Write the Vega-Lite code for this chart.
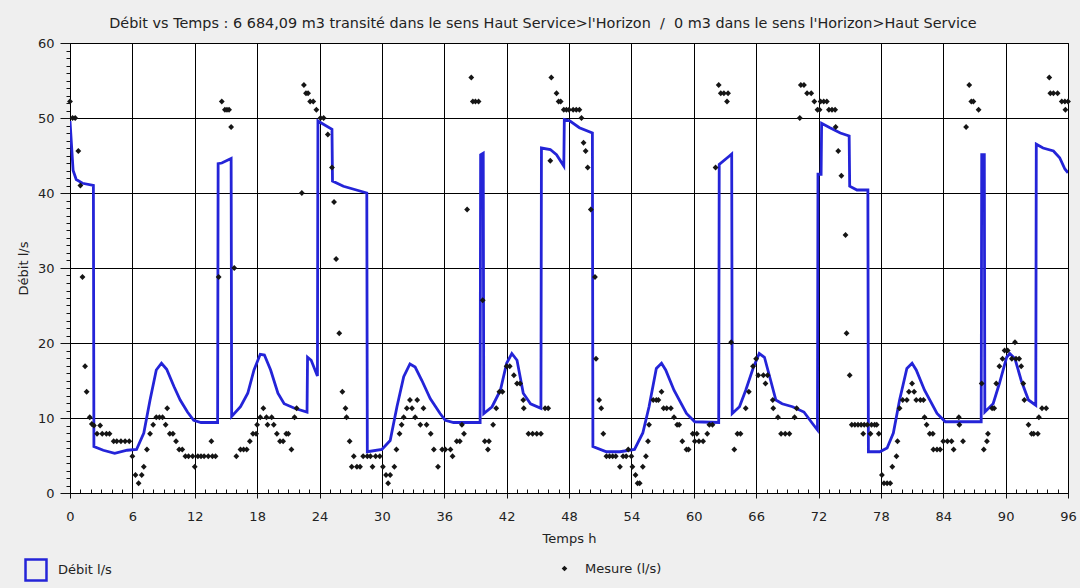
{
  "$schema": "https://vega.github.io/schema/vega-lite/v6.json",
  "width": 998,
  "height": 450,
  "autosize": {"type": "none"},
  "padding": {"left": 70, "top": 43, "right": 12, "bottom": 95},
  "background": "#efefef",
  "view": {"fill": "white", "stroke": "#000", "strokeWidth": 1},
  "title": {
    "text": "Débit vs Temps : 6 684,09 m3 transité dans le sens Haut Service>l'Horizon\u00a0\u00a0/\u00a0\u00a00 m3 dans le sens l'Horizon>Haut Service",
    "font": "DejaVu Sans", "fontSize": 14.4, "fontWeight": "normal", "color": "#222",
    "anchor": "middle", "frame": "group", "dx": -26, "offset": 6
  },
  "datasets": {
    "debit": [
      {"t":0,"q":49.6},{"t":0.3,"q":43},{"t":0.6,"q":41.8},{"t":1.2,"q":41.3},{"t":2.25,"q":41.0},{"t":2.3,"q":6.2},{"t":3.2,"q":5.7},{"t":4.3,"q":5.3},{"t":5.5,"q":5.7},{"t":6.4,"q":5.8},{"t":7.1,"q":8},{"t":7.7,"q":12.4},{"t":8.3,"q":16.4},{"t":8.8,"q":17.3},{"t":9.3,"q":16.5},{"t":10,"q":14.2},{"t":10.6,"q":12.4},{"t":11.3,"q":10.8},{"t":11.9,"q":9.7},{"t":12.6,"q":9.4},{"t":14.2,"q":9.4},{"t":14.25,"q":43.9},{"t":14.6,"q":44},{"t":15.5,"q":44.6},{"t":15.55,"q":10.2},{"t":16.4,"q":11.5},{"t":17.1,"q":13.3},{"t":17.7,"q":16.4},{"t":18.3,"q":18.5},{"t":18.7,"q":18.4},{"t":19.3,"q":16.4},{"t":20.0,"q":13.3},{"t":20.6,"q":11.9},{"t":21.6,"q":11.3},{"t":22.8,"q":10.8},{"t":22.85,"q":18.1},{"t":23.2,"q":17.7},{"t":23.8,"q":15.6},{"t":23.85,"q":49.6},
      {"t":25.2,"q":48.5},{"t":25.25,"q":41.6},{"t":26.3,"q":40.9},{"t":28.55,"q":40},{"t":28.6,"q":5.5},{"t":30.0,"q":5.8},{"t":30.8,"q":7},{"t":31.45,"q":11.5},{"t":32.1,"q":15.5},{"t":32.7,"q":17.2},{"t":33.2,"q":16.8},{"t":33.85,"q":15},{"t":34.65,"q":12.6},{"t":35.6,"q":10.6},{"t":36.1,"q":9.7},{"t":36.9,"q":9.4},{"t":39.45,"q":9.4},{"t":39.5,"q":45.1},{"t":39.75,"q":45.3},{"t":39.8,"q":10.6},{"t":40.6,"q":11.5},{"t":41.4,"q":13.7},{"t":42.0,"q":17.3},{"t":42.5,"q":18.6},{"t":43.0,"q":17.7},{"t":43.6,"q":13.3},{"t":44.3,"q":11.9},{"t":45.3,"q":11.3},{"t":45.35,"q":46},{"t":46.2,"q":45.8},{"t":46.8,"q":45.1},{"t":47.5,"q":43.6},{"t":47.55,"q":49.8},
      {"t":48.1,"q":49.6},{"t":49.0,"q":48.7},{"t":50.25,"q":48},{"t":50.3,"q":6.2},{"t":51.6,"q":5.5},{"t":52.9,"q":5.5},{"t":54.3,"q":5.8},{"t":55.1,"q":8},{"t":55.7,"q":11.5},{"t":56.4,"q":16.6},{"t":56.9,"q":17.3},{"t":57.3,"q":16.4},{"t":58.1,"q":13.7},{"t":59.3,"q":10.6},{"t":60.1,"q":9.5},{"t":62.4,"q":9.4},{"t":62.45,"q":43.8},{"t":63.4,"q":44.9},{"t":63.65,"q":45.2},{"t":63.7,"q":10.6},{"t":64.4,"q":11.5},{"t":65.0,"q":13.7},{"t":65.7,"q":16.6},{"t":66.3,"q":18.6},{"t":66.8,"q":18.1},{"t":67.4,"q":15},{"t":67.9,"q":12.4},{"t":68.5,"q":11.9},{"t":69.5,"q":11.5},{"t":70.6,"q":10.8},{"t":71.4,"q":9.3},{"t":71.9,"q":8.4},{"t":71.95,"q":42.5},{"t":72.25,"q":42.5},{"t":72.3,"q":49.3},
      {"t":73.1,"q":48.7},{"t":74.1,"q":48},{"t":74.95,"q":47.6},{"t":75.0,"q":40.9},{"t":75.7,"q":40.4},{"t":76.75,"q":40.4},{"t":76.8,"q":5.5},{"t":77.9,"q":5.5},{"t":78.6,"q":6},{"t":79.2,"q":8},{"t":79.8,"q":12.4},{"t":80.5,"q":16.6},{"t":81.0,"q":17.3},{"t":81.4,"q":16.4},{"t":82.2,"q":13.7},{"t":83.4,"q":10.6},{"t":84.2,"q":9.5},{"t":87.65,"q":9.5},{"t":87.7,"q":45.1},{"t":87.95,"q":45.1},{"t":88.0,"q":10.8},{"t":88.8,"q":11.9},{"t":89.4,"q":14.6},{"t":90.1,"q":18.1},{"t":90.4,"q":18.6},{"t":90.9,"q":17.9},{"t":91.5,"q":15},{"t":92.2,"q":12.4},{"t":92.9,"q":11.7},{"t":92.95,"q":46.5},{"t":93.6,"q":46},{"t":94.6,"q":45.6},{"t":95.2,"q":44.7},{"t":95.7,"q":43.2},{"t":96.0,"q":42.7}
    ],
    "mesure": [
      {"t":0,"q":52.2},{"t":0.25,"q":50},{"t":0.5,"q":50},{"t":0.8,"q":45.6},{"t":1.0,"q":41},{"t":1.2,"q":28.8},{"t":1.45,"q":16.9},{"t":1.6,"q":13.5},{"t":1.9,"q":10.1},{"t":2.1,"q":9.2},{"t":2.3,"q":9},{"t":2.6,"q":7.9},{"t":2.9,"q":9},{"t":3.1,"q":7.9},{"t":3.5,"q":7.9},{"t":3.8,"q":7.9},{"t":4.2,"q":6.9},{"t":4.5,"q":6.9},{"t":4.9,"q":6.9},{"t":5.3,"q":6.9},{"t":5.7,"q":6.9},{"t":6.0,"q":4.9},{"t":6.3,"q":2.4},{"t":6.6,"q":1.3},{"t":6.9,"q":2.4},{"t":7.1,"q":3.5},{"t":7.4,"q":5.8},{"t":7.7,"q":7.9},{"t":8.0,"q":9.1},{"t":8.3,"q":10.1},{"t":8.6,"q":10.1},{"t":8.9,"q":10.1},{"t":9.2,"q":9.1},{"t":9.35,"q":11.3},{"t":9.6,"q":7.9},{"t":9.9,"q":7.9},{"t":10.2,"q":6.9},{"t":10.5,"q":5.8},{"t":10.8,"q":5.8},{"t":11.1,"q":4.9},{"t":11.4,"q":4.9},{"t":11.8,"q":4.9},{"t":12.0,"q":3.5},{"t":12.3,"q":4.9},{"t":12.6,"q":4.9},{"t":12.9,"q":4.9},{"t":13.3,"q":4.9},{"t":13.6,"q":6.9},{"t":13.7,"q":4.9},{"t":14.0,"q":4.9},{"t":14.3,"q":28.8},{"t":14.6,"q":52.2},{"t":14.9,"q":51.1},{"t":15.1,"q":51.1},{"t":15.3,"q":51.1},{"t":15.5,"q":48.8},{"t":15.8,"q":30},{"t":16.0,"q":4.9},{"t":16.4,"q":5.8},{"t":16.7,"q":5.8},{"t":17.0,"q":5.8},{"t":17.3,"q":6.9},{"t":17.6,"q":7.9},{"t":17.9,"q":7.9},{"t":18.0,"q":9.1},{"t":18.3,"q":10.1},{"t":18.6,"q":11.3},{"t":18.9,"q":10.1},{"t":19.0,"q":9.1},{"t":19.4,"q":10.1},{"t":19.6,"q":9.1},{"t":19.9,"q":7.9},{"t":20.2,"q":6.9},{"t":20.5,"q":6.9},{"t":20.8,"q":7.9},{"t":21.0,"q":7.9},{"t":21.3,"q":5.8},{"t":21.6,"q":10.1},{"t":21.8,"q":11.3},{"t":22.3,"q":40},{"t":22.5,"q":54.4},{"t":22.7,"q":53.3},{"t":22.9,"q":53.3},{"t":23.1,"q":52.2},{"t":23.4,"q":52.2},{"t":23.7,"q":51.1},
      {"t":24.1,"q":50},{"t":24.4,"q":50},{"t":24.8,"q":47.8},{"t":25.2,"q":43.4},{"t":25.4,"q":38.8},{"t":25.6,"q":31.2},{"t":25.9,"q":21.3},{"t":26.2,"q":13.5},{"t":26.5,"q":11.3},{"t":26.6,"q":10.1},{"t":26.9,"q":6.9},{"t":27.1,"q":3.5},{"t":27.3,"q":4.9},{"t":27.6,"q":3.5},{"t":27.9,"q":3.5},{"t":28.2,"q":4.9},{"t":28.6,"q":4.9},{"t":28.9,"q":4.9},{"t":29.1,"q":3.5},{"t":29.4,"q":4.9},{"t":29.8,"q":4.9},{"t":30.1,"q":3.5},{"t":30.4,"q":2.4},{"t":30.6,"q":1.3},{"t":30.8,"q":2.4},{"t":31.2,"q":3.5},{"t":31.4,"q":5.8},{"t":31.7,"q":7.9},{"t":31.9,"q":9.1},{"t":32.1,"q":10.1},{"t":32.4,"q":11.3},{"t":32.7,"q":12.4},{"t":32.9,"q":11.3},{"t":33.2,"q":10.1},{"t":33.4,"q":12.4},{"t":33.7,"q":9.1},{"t":34.0,"q":11.3},{"t":34.3,"q":9.1},{"t":34.7,"q":7.9},{"t":35.0,"q":5.8},{"t":35.4,"q":3.5},{"t":35.8,"q":5.8},{"t":36.1,"q":5.8},{"t":36.6,"q":5.8},{"t":36.8,"q":4.9},{"t":37.2,"q":6.9},{"t":37.5,"q":6.9},{"t":37.7,"q":9.1},{"t":37.9,"q":7.9},{"t":38.2,"q":37.8},{"t":38.6,"q":55.4},{"t":38.75,"q":52.2},{"t":39.0,"q":52.2},{"t":39.3,"q":52.2},{"t":39.7,"q":25.7},{"t":39.9,"q":6.9},{"t":40.2,"q":5.8},{"t":40.3,"q":6.9},{"t":40.7,"q":9.1},{"t":41.0,"q":11.3},{"t":41.3,"q":13.5},{"t":41.6,"q":13.5},{"t":42.0,"q":16.9},{"t":42.3,"q":16.9},{"t":42.7,"q":15.7},{"t":43.0,"q":14.6},{"t":43.3,"q":14.6},{"t":43.6,"q":12.4},{"t":43.65,"q":11.3},{"t":44.1,"q":7.9},{"t":44.5,"q":7.9},{"t":44.9,"q":7.9},{"t":45.3,"q":7.9},{"t":45.7,"q":11.3},{"t":46.0,"q":11.3},{"t":46.2,"q":44.3},{"t":46.3,"q":55.4},{"t":46.8,"q":53.3},{"t":47.0,"q":52.2},{"t":47.2,"q":52.2},{"t":47.5,"q":51.1},{"t":47.75,"q":51.1},
      {"t":48.0,"q":51.1},{"t":48.4,"q":51.1},{"t":48.7,"q":51.1},{"t":49.0,"q":51.1},{"t":49.2,"q":50},{"t":49.4,"q":46.7},{"t":49.6,"q":45.6},{"t":49.8,"q":43.4},{"t":50.1,"q":37.8},{"t":50.5,"q":28.8},{"t":50.6,"q":17.9},{"t":50.9,"q":12.4},{"t":51.1,"q":11.3},{"t":51.3,"q":7.9},{"t":51.6,"q":4.9},{"t":51.9,"q":4.9},{"t":52.2,"q":4.9},{"t":52.5,"q":4.9},{"t":52.9,"q":3.5},{"t":53.2,"q":4.9},{"t":53.5,"q":4.9},{"t":53.7,"q":5.8},{"t":54.0,"q":4.9},{"t":54.1,"q":3.5},{"t":54.4,"q":2.4},{"t":54.6,"q":1.3},{"t":54.8,"q":1.3},{"t":55.1,"q":3.5},{"t":55.4,"q":4.9},{"t":55.6,"q":6.9},{"t":55.7,"q":9.1},{"t":56.1,"q":12.4},{"t":56.4,"q":12.4},{"t":56.6,"q":12.4},{"t":56.9,"q":13.5},{"t":57.1,"q":11.3},{"t":57.4,"q":11.3},{"t":57.8,"q":11.3},{"t":58.1,"q":10.1},{"t":58.4,"q":9.1},{"t":58.6,"q":9.1},{"t":58.9,"q":6.9},{"t":59.3,"q":5.8},{"t":59.5,"q":5.8},{"t":59.9,"q":7.9},{"t":60.1,"q":6.9},{"t":60.3,"q":7.9},{"t":60.5,"q":6.9},{"t":60.9,"q":6.9},{"t":61.3,"q":7.9},{"t":61.5,"q":9.1},{"t":61.8,"q":9.1},{"t":62.1,"q":43.4},{"t":62.4,"q":54.4},{"t":62.6,"q":53.3},{"t":62.9,"q":53.3},{"t":63.2,"q":52.2},{"t":63.3,"q":53.3},{"t":63.6,"q":20.1},{"t":63.9,"q":5.8},{"t":64.2,"q":7.9},{"t":64.5,"q":7.9},{"t":65.0,"q":11.3},{"t":65.3,"q":13.5},{"t":65.7,"q":16.9},{"t":66.0,"q":17.9},{"t":66.2,"q":15.7},{"t":66.7,"q":15.7},{"t":66.9,"q":14.6},{"t":67.1,"q":15.7},{"t":67.6,"q":12.4},{"t":67.65,"q":11.3},{"t":68.1,"q":10.1},{"t":68.4,"q":7.9},{"t":68.8,"q":7.9},{"t":69.2,"q":7.9},{"t":69.7,"q":10.1},{"t":69.9,"q":11.3},{"t":70.2,"q":50},{"t":70.3,"q":54.4},{"t":70.6,"q":54.4},{"t":70.9,"q":53.3},{"t":71.3,"q":53.3},{"t":71.6,"q":52.2},{"t":71.9,"q":51.1},
      {"t":72.1,"q":51.1},{"t":72.2,"q":52.2},{"t":72.5,"q":52.2},{"t":72.8,"q":52.2},{"t":73.0,"q":51.1},{"t":73.3,"q":51.1},{"t":73.6,"q":51.1},{"t":73.65,"q":48.8},{"t":73.9,"q":45.6},{"t":74.2,"q":42.3},{"t":74.6,"q":34.4},{"t":74.7,"q":21.3},{"t":75.0,"q":15.7},{"t":75.2,"q":9.1},{"t":75.5,"q":9.1},{"t":75.8,"q":9.1},{"t":76.1,"q":9.1},{"t":76.3,"q":7.9},{"t":76.4,"q":9.1},{"t":76.7,"q":9.1},{"t":77.0,"q":7.9},{"t":77.1,"q":9.1},{"t":77.4,"q":9.1},{"t":77.6,"q":9.1},{"t":77.8,"q":7.9},{"t":78.1,"q":2.4},{"t":78.3,"q":1.3},{"t":78.6,"q":1.3},{"t":78.9,"q":1.3},{"t":79.1,"q":3.5},{"t":79.5,"q":4.9},{"t":79.6,"q":6.9},{"t":79.8,"q":11.3},{"t":80.1,"q":12.4},{"t":80.5,"q":12.4},{"t":80.7,"q":13.5},{"t":81.0,"q":14.6},{"t":81.2,"q":13.5},{"t":81.4,"q":12.4},{"t":81.8,"q":12.4},{"t":82.1,"q":12.4},{"t":82.2,"q":10.1},{"t":82.4,"q":9.1},{"t":82.7,"q":7.9},{"t":83.0,"q":7.9},{"t":83.05,"q":5.8},{"t":83.4,"q":5.8},{"t":83.7,"q":5.8},{"t":84.0,"q":6.9},{"t":84.4,"q":6.9},{"t":84.8,"q":6.9},{"t":85.0,"q":5.8},{"t":85.5,"q":10.1},{"t":85.55,"q":9.1},{"t":85.9,"q":6.9},{"t":86.2,"q":48.8},{"t":86.5,"q":54.4},{"t":86.7,"q":52.2},{"t":86.9,"q":52.2},{"t":87.4,"q":51.1},{"t":87.7,"q":14.6},{"t":87.9,"q":5.8},{"t":88.2,"q":6.9},{"t":88.3,"q":7.9},{"t":88.7,"q":11.3},{"t":88.9,"q":11.3},{"t":89.1,"q":14.6},{"t":89.4,"q":16.9},{"t":89.7,"q":17.9},{"t":89.9,"q":19},{"t":90.2,"q":19},{"t":90.6,"q":17.9},{"t":90.9,"q":20.1},{"t":91.0,"q":17.9},{"t":91.3,"q":17.9},{"t":91.5,"q":16.9},{"t":91.7,"q":14.6},{"t":91.8,"q":12.4},{"t":92.2,"q":9.1},{"t":92.5,"q":7.9},{"t":92.7,"q":7.9},{"t":93.1,"q":7.9},{"t":93.2,"q":10.1},{"t":93.5,"q":11.3},{"t":93.9,"q":11.3},{"t":94.2,"q":55.4},{"t":94.3,"q":53.3},{"t":94.6,"q":53.3},{"t":95.0,"q":53.3},{"t":95.4,"q":52.2},{"t":95.7,"q":52.2},{"t":95.75,"q":51.1},{"t":96.0,"q":52.2}
    ]
  },
  "encoding": {
    "x": {
      "field": "t", "type": "quantitative",
      "scale": {"domain": [0, 96], "nice": false, "zero": false},
      "axis": {
        "title": "Temps h",
        "values": [0,1,2,3,4,5,6,7,8,9,10,11,12,13,14,15,16,17,18,19,20,21,22,23,24,25,26,27,28,29,30,31,32,33,34,35,36,37,38,39,40,41,42,43,44,45,46,47,48,49,50,51,52,53,54,55,56,57,58,59,60,61,62,63,64,65,66,67,68,69,70,71,72,73,74,75,76,77,78,79,80,81,82,83,84,85,86,87,88,89,90,91,92,93,94,95,96],
        "labelExpr": "datum.value % 6 == 0 ? datum.label : ''",
        "labelFlush": false, "labelOverlap": false, "labelBound": false,
        "labelFont": "DejaVu Sans", "labelFontSize": 13, "labelColor": "#222", "labelPadding": 12,
        "tickSize": {"condition": {"test": "datum.value % 6 == 0", "value": 5}, "value": -4},
        "tickColor": "#111", "tickWidth": 1,
        "grid": true, "gridColor": "#000", "gridWidth": 1,
        "gridOpacity": {"condition": {"test": "datum.value % 6 == 0", "value": 1}, "value": 0},
        "domainColor": "#000",
        "titleFont": "DejaVu Sans", "titleFontSize": 13, "titleFontWeight": "normal", "titleColor": "#222", "titlePadding": 9
      }
    },
    "y": {
      "field": "q", "type": "quantitative",
      "scale": {"domain": [0, 60], "nice": false},
      "axis": {
        "title": "Débit l/s",
        "values": [0,1,2,3,4,5,6,7,8,9,10,11,12,13,14,15,16,17,18,19,20,21,22,23,24,25,26,27,28,29,30,31,32,33,34,35,36,37,38,39,40,41,42,43,44,45,46,47,48,49,50,51,52,53,54,55,56,57,58,59,60],
        "labelExpr": "datum.value % 10 == 0 ? datum.label : ''",
        "labelFlush": false, "labelOverlap": false, "labelBound": false,
        "labelFont": "DejaVu Sans", "labelFontSize": 13, "labelColor": "#222", "labelPadding": 6,
        "tickSize": {"condition": {"test": "datum.value % 10 == 0", "value": 10}, "value": 4},
        "tickColor": "#111", "tickWidth": 1,
        "grid": true, "gridColor": "#000", "gridWidth": 1,
        "gridOpacity": {"condition": {"test": "datum.value % 10 == 0", "value": 1}, "value": 0},
        "domainColor": "#000",
        "titleFont": "DejaVu Sans", "titleFontSize": 13, "titleFontWeight": "normal", "titleColor": "#222", "titlePadding": 7
      }
    }
  },
  "layer": [
    {
      "data": {"name": "debit"},
      "mark": {"type": "line", "strokeWidth": 2.8, "clip": true},
      "encoding": {
        "color": {
          "datum": "Débit l/s",
          "scale": {"domain": ["Débit l/s"], "range": ["#2424d8"]},
          "legend": {
            "title": null, "orient": "none", "legendX": -46, "legendY": 515, "padding": 0,
            "symbolType": "square", "symbolSize": 440, "symbolStrokeWidth": 2.5,
            "symbolFillColor": "transparent", "symbolStrokeColor": "#2424d8",
            "labelFont": "DejaVu Sans", "labelFontSize": 13, "labelColor": "#222", "labelOffset": 10
          }
        }
      }
    },
    {
      "data": {"name": "mesure"},
      "mark": {"type": "point", "shape": "diamond", "filled": true, "size": 34, "color": "#151515", "opacity": 1},
      "encoding": {
        "shape": {
          "datum": "Mesure (l/s)",
          "scale": {"domain": ["Mesure (l/s)"], "range": ["diamond"]},
          "legend": {
            "title": null, "orient": "none", "legendX": 488, "legendY": 519, "padding": 0,
            "symbolSize": 32, "symbolFillColor": "#151515", "symbolStrokeColor": "#151515",
            "labelFont": "DejaVu Sans", "labelFontSize": 13, "labelColor": "#222", "labelOffset": 14
          }
        }
      }
    }
  ]
}
